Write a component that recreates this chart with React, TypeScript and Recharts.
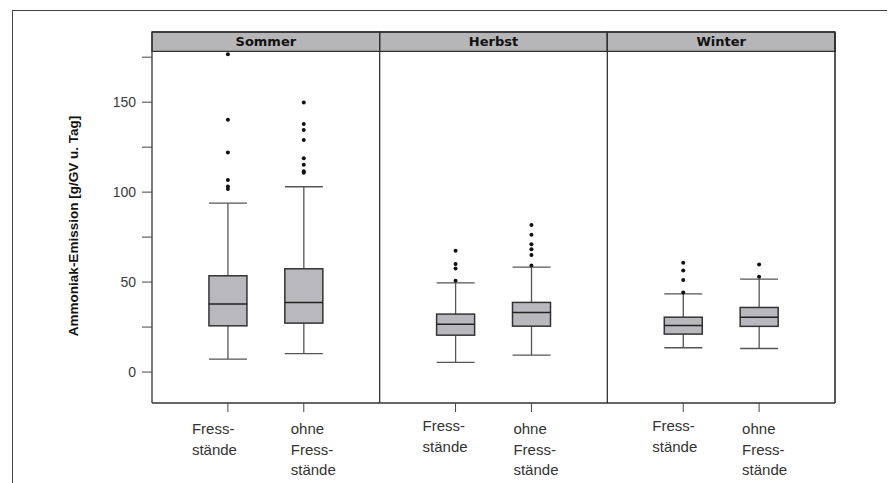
import React from "react";
import {
  ComposedChart,
  Bar,
  Scatter,
  XAxis,
  YAxis,
  ReferenceLine,
  ReferenceArea,
} from "recharts";

// panels and groups
const seasons = ["Sommer", "Herbst", "Winter"];
const positions = [1, 2, 4, 5, 7, 8];
const xLabels = [
  ["Fress-", "stände"],
  ["ohne", "Fress-", "stände"],
  ["Fress-", "stände"],
  ["ohne", "Fress-", "stände"],
  ["Fress-", "stände"],
  ["ohne", "Fress-", "stände"],
];

// box statistics, g/GV u. Tag
const whiskerLow = [7.2, 10.2, 5.4, 9.4, 13.5, 13.1];
const q1 = [25.7, 27.2, 20.5, 25.5, 21.1, 25.4];
const median = [37.8, 38.7, 26.6, 33.1, 25.9, 30.5];
const q3 = [53.5, 57.4, 32.2, 38.7, 30.5, 35.9];
const whiskerHigh = [93.9, 103.0, 49.6, 58.3, 43.5, 51.7];
const outliers = [
  [176.7, 140.2, 122.0, 106.8, 103.1, 101.8],
  [149.8, 137.8, 134.6, 129.0, 118.9, 115.2, 111.6, 110.8],
  [67.4, 60.0, 57.6, 50.7],
  [81.8, 76.3, 71.1, 68.3, 65.0, 59.2],
  [60.7, 56.5, 51.1, 44.2],
  [59.8, 52.9],
];

const yTicks = [0, 25, 50, 75, 100, 125, 150, 175];

const Y_MIN = -17.2;
const Y_MAX = 189.0;
const STRIP_BOTTOM = 178.2;

// label nudges (px), labels in the original were placed by hand
const labelDx = [-36, -13, -33, -18, -31, -17];
const labelDy = [0, 0, -3, 0, -3, 0];

const boxes = positions.map((pos, i) => ({
  pos,
  wLow: whiskerLow[i],
  q1: q1[i],
  median: median[i],
  q3: q3[i],
  wHigh: whiskerHigh[i],
}));

const points = outliers.flatMap((vals, i) =>
  vals.map((value) => ({ pos: positions[i], value }))
);

function BoxShape(props: any) {
  const { x, y, width, height, payload } = props;
  const top = Math.min(y, y + height);
  const h = Math.abs(height);
  const lo = payload.wLow;
  const hi = payload.wHigh;
  const py = (v: number) => top + (h * (hi - v)) / (hi - lo);
  const cx = x + width / 2;
  return (
    <g>
      <line x1={cx} x2={cx} y1={py(hi)} y2={py(payload.q3)} stroke="#555" strokeWidth={1.3} />
      <line x1={cx} x2={cx} y1={py(payload.q1)} y2={py(lo)} stroke="#555" strokeWidth={1.3} />
      <line x1={x} x2={x + width} y1={py(hi)} y2={py(hi)} stroke="#555" strokeWidth={1.3} />
      <line x1={x} x2={x + width} y1={py(lo)} y2={py(lo)} stroke="#555" strokeWidth={1.3} />
      <rect
        x={x}
        y={py(payload.q3)}
        width={width}
        height={py(payload.q1) - py(payload.q3)}
        fill="#b9b9bd"
        stroke="#333"
        strokeWidth={1.5}
      />
      <line
        x1={x}
        x2={x + width}
        y1={py(payload.median)}
        y2={py(payload.median)}
        stroke="#222"
        strokeWidth={1.5}
      />
    </g>
  );
}

function Dot(props: any) {
  return <circle cx={props.cx} cy={props.cy} r={2} fill="#111" />;
}

function XTick(props: any) {
  const { x, y, payload } = props;
  const i = positions.indexOf(payload.value);
  const lines = xLabels[i] || [];
  return (
    <g>
      {lines.map((l, k) => (
        <text
          key={k}
          x={x + labelDx[i]}
          y={y + 20 + labelDy[i] + k * 20.5}
          textAnchor="start"
          fontFamily="Liberation Sans, Arial, sans-serif"
          fontSize={15}
          fill="#333"
        >
          {l}
        </text>
      ))}
    </g>
  );
}

function YTick(props: any) {
  const { x, y, payload } = props;
  if (payload.value % 50 !== 0) return null;
  return (
    <text
      x={x}
      y={y + 5}
      textAnchor="end"
      fontFamily="Liberation Sans, Arial, sans-serif"
      fontSize={14}
      fill="#3a3a3a"
    >
      {payload.value}
    </text>
  );
}

export default function App() {
  return (
    <div style={{ position: "absolute", left: 0, top: 0, width: 895, height: 483, background: "#fff" }}>
      <div
        style={{
          position: "absolute",
          left: 12,
          top: 10,
          width: 874,
          height: 473,
          borderTop: "1px solid #444",
          borderLeft: "1px solid #444",
        }}
      />
      <div style={{ position: "absolute", left: 0, top: 0 }}>
        <ComposedChart
          width={895}
          height={483}
          data={boxes}
          margin={{ top: 32, right: 60, bottom: 0, left: 0 }}
        >
          <XAxis
            dataKey="pos"
            type="number"
            domain={[0, 9]}
            ticks={positions}
            allowDataOverflow
            height={80}
            tickSize={9}
            tickLine={{ stroke: "#444" }}
            axisLine={{ stroke: "#333", strokeWidth: 1.3 }}
            tick={<XTick />}
          />
          <YAxis
            type="number"
            domain={[Y_MIN, Y_MAX]}
            ticks={yTicks}
            allowDataOverflow
            width={152}
            tickSize={10}
            tickMargin={6}
            tickLine={{ stroke: "#444" }}
            axisLine={{ stroke: "#333", strokeWidth: 1.3 }}
            tick={<YTick />}
            label={{
              content: () => (
                <text
                  x={73}
                  y={226}
                  transform="rotate(-90 73 226)"
                  textAnchor="middle"
                  dominantBaseline="central"
                  fontFamily="Liberation Sans, Arial, sans-serif"
                  fontWeight="bold"
                  fontSize={13.5}
                  fill="#111"
                >
                  Ammoniak-Emission [g/GV u. Tag]
                </text>
              ),
            }}
          />
          {seasons.map((s, i) => (
            <ReferenceArea
              key={s}
              x1={i * 3}
              x2={i * 3 + 3}
              y1={STRIP_BOTTOM}
              y2={Y_MAX}
              fill="#b6b6b9"
              fillOpacity={1}
              stroke="#333"
              strokeWidth={1.3}
              label={{
                value: s,
                position: "center",
                fill: "#111",
                fontSize: 13,
                fontWeight: "bold",
                fontFamily: "DejaVu Sans, Verdana, sans-serif",
              }}
            />
          ))}
          <ReferenceLine x={3} stroke="#333" strokeWidth={1.3} />
          <ReferenceLine x={6} stroke="#333" strokeWidth={1.3} />
          <ReferenceLine x={9} stroke="#222" strokeWidth={1.5} />
          <ReferenceLine y={Y_MAX} stroke="#333" strokeWidth={1.3} />
          <Bar
            dataKey={(d: any) => [d.wLow, d.wHigh]}
            barSize={38}
            shape={<BoxShape />}
            isAnimationActive={false}
          />
          <Scatter
            data={points}
            dataKey="value"
            shape={<Dot />}
            isAnimationActive={false}
          />
        </ComposedChart>
      </div>
    </div>
  );
}
